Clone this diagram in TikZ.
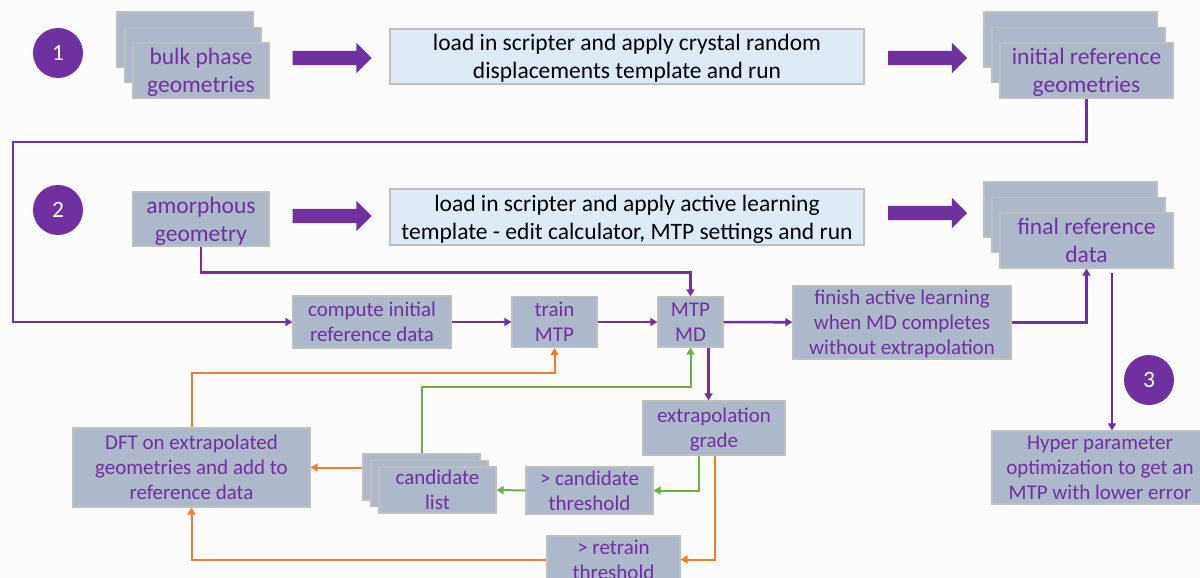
\documentclass[tikz,border=0pt]{standalone}
\usepackage{fontspec}
\setmainfont{Carlito}
\usepackage{xcolor}
\usepackage{tikz}
\usetikzlibrary{positioning,arrows.meta,shapes.arrows,shadows}

\definecolor{mtppurple}{HTML}{7030A0}
\definecolor{boxgray}{HTML}{ADB9CA}
\definecolor{edgegray}{HTML}{BFBFBF}
\definecolor{tmplblue}{HTML}{DEEBF7}
\definecolor{retrainorange}{HTML}{ED7D31}
\definecolor{candgreen}{HTML}{70AD47}

\newcommand{\bigfont}{\fontsize{23.5}{28}\selectfont}
\newcommand{\smallfont}{\fontsize{21}{25}\selectfont}

\begin{document}
\begin{tikzpicture}[x=1pt,y=-1pt, >={Triangle[length=7pt,width=8pt]},
    num/.style={circle,fill=mtppurple,text=white,minimum size=50pt,inner sep=0pt,font=\bigfont},
    box/.style={rectangle,fill=boxgray,draw=edgegray,line width=1.2pt,text=mtppurple,align=center,inner sep=0pt,text depth=0pt},
    bigbox/.style={box,font=\bigfont},
    smallbox/.style={box,font=\smallfont},
    stackbox/.style={bigbox,copy shadow={shadow xshift=-16pt,shadow yshift=31pt},copy shadow={shadow xshift=-8pt,shadow yshift=15.5pt}},
    candstack/.style={smallbox,copy shadow={shadow xshift=-16pt,shadow yshift=13pt},copy shadow={shadow xshift=-8pt,shadow yshift=6.5pt}},
    tmplbox/.style={rectangle,fill=tmplblue,draw=edgegray,line width=1.2pt,text=black,align=center,inner sep=0pt,text depth=0pt,font=\bigfont,minimum width=474pt},
    bigarrow/.style={single arrow,fill=mtppurple,draw=none,minimum height=79pt,inner xsep=0pt,inner ysep=7pt,single arrow head extend=8pt},
    flow/.style={->,draw=mtppurple,line width=2.6pt},
    cand/.style={->,draw=candgreen,line width=2pt},
    retrain/.style={->,draw=retrainorange,line width=2pt}]

   \clip (0,0) rectangle (1200,578);
   \fill[black!1] (0,0) rectangle (1200,578);

   % step 1
   \node[num] (n1) at (58,53) {1};
   \node[stackbox,minimum width=136pt,minimum height=55pt] (bulk) at (201,70.5) {bulk phase\\geometries};
   \node[bigarrow] (a1) at (328.5,58) {};
   \node[tmplbox,minimum height=55pt] (load1) at (627,56.5) {load in scripter and apply crystal random\\displacements template and run};
   \node[bigarrow] (a2) at (924,58) {};
   \node[stackbox,minimum width=173pt,minimum height=55pt] (initref) at (1086.5,70.5) {initial reference\\geometries};

   % step 2
   \node[num] (n2) at (58,210) {2};
   \node[bigbox,minimum width=136pt,minimum height=54pt] (amorph) at (201,219) {amorphous\\geometry};
   \node[bigarrow] (a3) at (328.5,216) {};
   \node[tmplbox,minimum height=56pt] (load2) at (627,217) {load in scripter and apply active learning\\template - edit calculator, MTP settings and run};
   \node[bigarrow] (a4) at (924,213) {};
   \node[stackbox,minimum width=173pt,minimum height=55pt] (finalref) at (1086.5,240.5) {final reference\\data};

   % active learning loop
   \node[smallbox,minimum width=158pt,minimum height=52pt] (compute) at (372,322) {compute initial\\reference data};
   \node[smallbox,minimum width=85pt,minimum height=51pt] (train) at (554.5,322) {train\\MTP};
   \node[smallbox,minimum width=65pt,minimum height=50pt] (mtpmd) at (690.5,322) {MTP\\MD};
   \node[smallbox,minimum width=218pt,minimum height=73pt] (finish) at (902,322.5) {finish active learning\\when MD completes\\without extrapolation};
   \node[smallbox,minimum width=142pt,minimum height=54pt] (extrap) at (714,428) {extrapolation\\grade};
   \node[smallbox,minimum width=127pt,minimum height=47pt] (candthr) at (589.5,490.5) {> candidate\\threshold};
   \node[candstack,minimum width=117pt,minimum height=46pt] (candlist) at (437.5,490) {candidate\\list};
   \node[smallbox,minimum width=133pt,minimum height=47pt] (retrainthr) at (613.5,559.5) {> retrain\\threshold};
   \node[smallbox,minimum width=237pt,minimum height=79pt] (dft) at (191.5,467.5) {DFT on extrapolated\\geometries and add to\\reference data};

   % step 3
   \node[num] (n3) at (1149,380) {3};
   \node[smallbox,minimum width=216pt,minimum height=73pt] (hyper) at (1100,467.5) {Hyper parameter\\optimization to get an\\MTP with lower error};

   \coordinate (turn) at (13,142);
   \draw[flow] (initref.south) |- (turn) |- (compute.west);
   \draw[flow] (amorph.south) -- ++(0,26) -| (mtpmd.north);
   \draw[flow] (compute) -- (train);
   \draw[flow] (train) -- (mtpmd);
   \draw[flow] (mtpmd) -- (finish);
   \draw[flow] (finish.east) -| (finalref.south);
   \draw[flow] ([xshift=25.5pt,yshift=-4pt]finalref.south) -- ([xshift=25.5pt]finalref.south |- hyper.north);
   \draw[flow] ([xshift=18pt]mtpmd.south) -- ([xshift=18pt]mtpmd.south |- extrap.north);

   \draw[cand] ([xshift=-15pt]extrap.south) |- (candthr.east);
   \draw[cand] (candthr.west) -- (candlist.east);
   \draw[cand] ([shift={(-16pt,13pt)}]candlist.north) -- ++(0,-66) -| (mtpmd.south);

   \draw[retrain] ([xshift=-16pt]candlist.west |- dft.east) -- (dft.east);
   \draw[retrain] (dft.north) -- ++(0,-54) -| (train.south);
   \draw[retrain] ([xshift=1pt]extrap.south) |- (retrainthr.east);
   \draw[retrain] (retrainthr.west) -| (dft.south);
\end{tikzpicture}
\end{document}
